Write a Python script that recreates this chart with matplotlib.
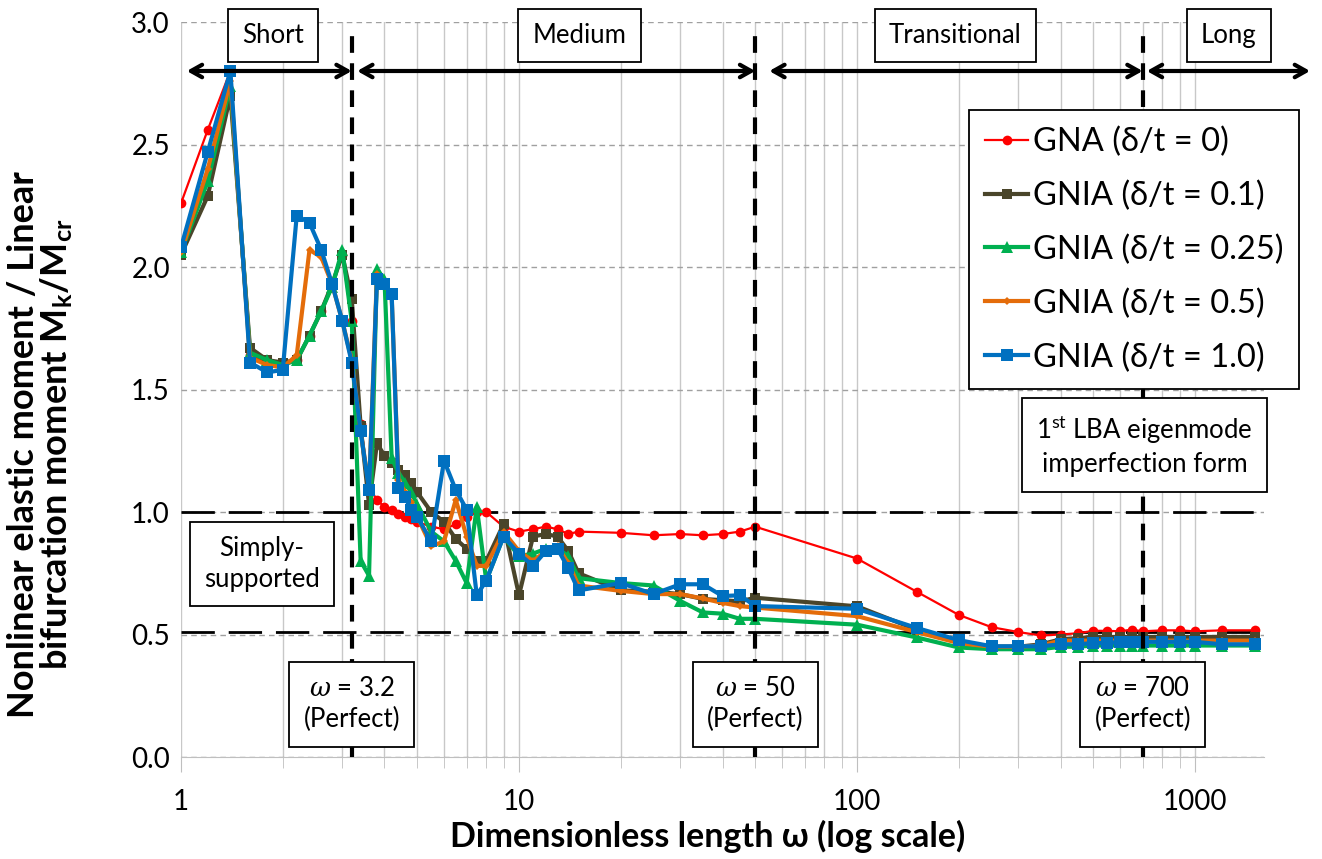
import matplotlib
matplotlib.use('Agg')
import matplotlib.pyplot as plt
from matplotlib.ticker import FixedLocator, LogLocator, NullFormatter, FixedFormatter

plt.rcParams['font.family'] = ['Lato', 'DejaVu Sans']
plt.rcParams['mathtext.fontset'] = 'custom'
plt.rcParams['mathtext.rm'] = 'Lato'
plt.rcParams['mathtext.bf'] = 'Lato:bold'
plt.rcParams['mathtext.it'] = 'DejaVu Serif:italic'

# ---------------- data ----------------
omega = [1, 1.2, 1.4, 1.6, 1.8, 2.0, 2.2, 2.4, 2.6, 2.8,
         3.0, 3.2, 3.4, 3.6, 3.8, 4.0, 4.2, 4.4, 4.6, 4.8,
         5.0, 5.5, 6.0, 6.5, 7.0, 7.5, 8, 9, 10, 11,
         12, 13, 14, 15, 20, 25, 30, 35, 40, 45,
         50, 100, 150, 200, 250, 300, 350, 400, 450, 500,
         550, 600, 650, 700, 800, 900, 1000, 1200, 1500]

gna = [2.26, 2.56, 2.80, 1.64, 1.61, 1.60, 1.62, 1.72, 1.82, 1.93,
       2.05, 1.78, 1.36, 1.10, 1.05, 1.02, 1.01, 0.99, 0.98, 0.97,
       0.96, 0.94, 0.93, 0.95, 0.98, 1.00, 1.00, 0.94, 0.92, 0.93,
       0.94, 0.93, 0.91, 0.92, 0.915, 0.905, 0.91, 0.905, 0.91, 0.92,
       0.94, 0.81, 0.675, 0.58, 0.53, 0.51, 0.496, 0.50, 0.505, 0.515,
       0.515, 0.513, 0.52, 0.513, 0.517, 0.517, 0.513, 0.517, 0.517]

gnia_01 = [2.05, 2.29, 2.70, 1.67, 1.62, 1.61, 1.62, 1.72, 1.82, 1.93,
           2.05, 1.87, 1.35, 1.03, 1.28, 1.23, 1.20, 1.17, 1.15, 1.12,
           1.08, 1.00, 0.96, 0.89, 0.85, 0.80, 0.80, 0.95, 0.66, 0.90,
           0.91, 0.90, 0.84, 0.75, 0.68, 0.675, 0.665, 0.645, 0.64, 0.635,
           0.65, 0.615, 0.52, 0.47, 0.45, 0.45, 0.46, 0.48, 0.485, 0.49,
           0.49, 0.49, 0.49, 0.49, 0.49, 0.49, 0.49, 0.49, 0.49]

gnia_025 = [2.06, 2.35, 2.74, 1.65, 1.62, 1.60, 1.62, 1.72, 1.82, 1.92,
            2.07, 1.78, 0.80, 0.74, 1.99, 1.95, 1.22, 1.16, 1.12, 1.08,
            1.03, 0.92, 0.88, 0.80, 0.71, 1.02, 0.72, 0.90, 0.82, 0.83,
            0.85, 0.85, 0.82, 0.73, 0.71, 0.70, 0.637, 0.59, 0.585, 0.564,
            0.564, 0.54, 0.488, 0.447, 0.44, 0.44, 0.44, 0.45, 0.45, 0.455,
            0.455, 0.455, 0.455, 0.455, 0.455, 0.455, 0.455, 0.455, 0.455]

gnia_05 = [2.06, 2.40, 2.76, 1.63, 1.60, 1.59, 1.64, 2.07, 2.04, 1.93,
           1.78, 1.62, 1.33, 1.10, 1.97, 1.93, 1.88, 1.13, 1.08, 1.04,
           0.98, 0.86, 0.88, 1.05, 0.90, 0.78, 0.78, 0.92, 0.84, 0.80,
           0.84, 0.86, 0.79, 0.70, 0.678, 0.665, 0.665, 0.647, 0.629, 0.616,
           0.61, 0.575, 0.51, 0.465, 0.45, 0.45, 0.455, 0.475, 0.475, 0.475,
           0.475, 0.475, 0.475, 0.475, 0.475, 0.475, 0.475, 0.475, 0.475]

gnia_10 = [2.08, 2.47, 2.80, 1.61, 1.57, 1.58, 2.21, 2.18, 2.07, 1.93,
           1.78, 1.61, 1.33, 1.09, 1.95, 1.93, 1.89, 1.10, 1.06, 1.01,
           0.98, 0.88, 1.21, 1.09, 1.01, 0.66, 0.72, 0.90, 0.83, 0.78,
           0.84, 0.85, 0.77, 0.68, 0.71, 0.665, 0.705, 0.705, 0.657, 0.66,
           0.616, 0.605, 0.527, 0.477, 0.452, 0.452, 0.452, 0.46, 0.46, 0.465,
           0.465, 0.47, 0.47, 0.47, 0.47, 0.47, 0.47, 0.46, 0.46]

series_labels = ['GNA (δ/t = 0)', 'GNIA (δ/t = 0.1)', 'GNIA (δ/t = 0.25)',
                 'GNIA (δ/t = 0.5)', 'GNIA (δ/t = 1.0)']

x_tick_vals = [1, 10, 100, 1000]
x_tick_labels = ['1', '10', '100', '1000']
y_tick_vals = [0.0, 0.5, 1.0, 1.5, 2.0, 2.5, 3.0]

region_names = ['Short', 'Medium', 'Transitional', 'Long']
region_centers = [1.87, 15.1, 195, 1260]
region_arrows = [(1.04, 3.2), (3.32, 50), (55, 700), (720, 2190)]
boundary_omegas = [3.2, 50, 700]
limit_levels = [1.0, 0.51]

# ---------------- figure ----------------
fig = plt.figure(figsize=(13.22, 8.59), dpi=100)
ax = fig.add_axes([181/1322, 1 - 757/859, (1264-181)/1322, (757-22)/859])
ax.set_xscale('log')
ax.set_xlim(1, 1600)
ax.set_ylim(0, 3.0)

# grid
ax.xaxis.set_major_locator(FixedLocator(x_tick_vals))
ax.xaxis.set_major_formatter(FixedFormatter(x_tick_labels))
ax.xaxis.set_minor_locator(LogLocator(base=10, subs=range(2, 10), numticks=20))
ax.xaxis.set_minor_formatter(NullFormatter())
ax.set_yticks(y_tick_vals)
ax.set_yticklabels([f'{v:.1f}' for v in y_tick_vals])
ax.grid(which='both', axis='x', color='#C8C8C8', lw=1.0, zorder=0)
ax.grid(which='major', axis='y', color='#A0A0A0', lw=1.0, ls=(0, (4, 3)), zorder=0)
ax.set_axisbelow(True)

for s in ['top', 'right', 'left']:
    ax.spines[s].set_visible(False)
ax.spines['bottom'].set_color('#BFBFBF')
ax.tick_params(axis='x', which='major', length=11, color='#BFBFBF', labelsize=20, pad=12)
ax.tick_params(axis='x', which='minor', length=8, color='#BFBFBF')
ax.tick_params(axis='y', which='major', length=0, labelsize=20, pad=8)

# horizontal black dashed limit lines
for lv in limit_levels:
    ax.axhline(lv, color='black', lw=2.0, dashes=(12, 5), zorder=1.5)

# series
styles = [
    dict(color='#FF0000', marker='o', ms=7, lw=1.6),
    dict(color='#4A452A', marker='s', ms=7, lw=3.0),
    dict(color='#00B050', marker='^', ms=8.5, lw=3.0),
    dict(color='#E46C0A', marker='D', ms=4.5, lw=3.0),
    dict(color='#0070C0', marker='s', ms=8.5, lw=3.0),
]
all_series = [gna, gnia_01, gnia_025, gnia_05, gnia_10]
handles = []
for vals, lab, st in zip(all_series, series_labels, styles):
    h, = ax.plot(omega, vals, label=lab, color=st['color'], marker=st['marker'],
                 markersize=st['ms'], lw=st['lw'], markeredgewidth=0, zorder=3)
    handles.append(h)

# vertical boundary lines
for bo in boundary_omegas:
    ax.plot([bo, bo], [0, 2.96], color='black', lw=3, dashes=(4, 2.5), zorder=5,
            clip_on=False)

# arrows
arrow_y = 2.80
for (a, b) in region_arrows:
    ax.annotate('', xy=(b, arrow_y), xytext=(a, arrow_y),
                arrowprops=dict(arrowstyle='<->,head_length=0.8,head_width=0.45',
                                lw=3, color='black', shrinkA=0, shrinkB=0),
                annotation_clip=False, zorder=6)

box = dict(boxstyle='square,pad=0.55', fc='white', ec='black', lw=1.3)
for name, xc in zip(region_names, region_centers):
    ax.text(xc, 2.945, name, ha='center', va='center', fontsize=18.5, bbox=box,
            zorder=7, clip_on=False)

ax.text(1.737, 0.787, 'Simply-\nsupported', ha='center', va='center', fontsize=18.5,
        bbox=box, zorder=7, linespacing=1.3)
for bo in boundary_omegas:
    ax.text(bo, 0.215, f'$\\omega$ = {bo:g}\n(Perfect)', ha='center', va='center',
            fontsize=18.5, bbox=box, zorder=7, linespacing=1.3)
ax.text(708, 1.27, '1$^{\\mathregular{st}}$ LBA eigenmode\nimperfection form',
        ha='center', va='center', fontsize=18.5, bbox=box, zorder=7, linespacing=1.3)

# legend
leg = ax.legend(handles=handles, loc='upper left', bbox_to_anchor=(0.7276, 0.88),
                fontsize=23.5, frameon=True, fancybox=False, edgecolor='black',
                framealpha=1, handlelength=1.3, handletextpad=0.15, borderpad=0.5,
                labelspacing=0.72, borderaxespad=0, numpoints=1)
leg.get_frame().set_linewidth(1.3)
leg.set_zorder(8)

# labels
ax.set_xlabel('Dimensionless length ω (log scale)', fontsize=24.5, fontweight='bold')
ax.xaxis.set_label_coords(0.4866, -0.086)
ax.set_ylabel('Nonlinear elastic moment / Linear\nbifurcation moment $\\mathbf{M_{k}/M_{cr}}$',
              fontsize=26, fontweight='bold', linespacing=0.95)
ax.yaxis.set_label_coords(-0.098, 0.425)

fig.savefig('out.png', dpi=100)
